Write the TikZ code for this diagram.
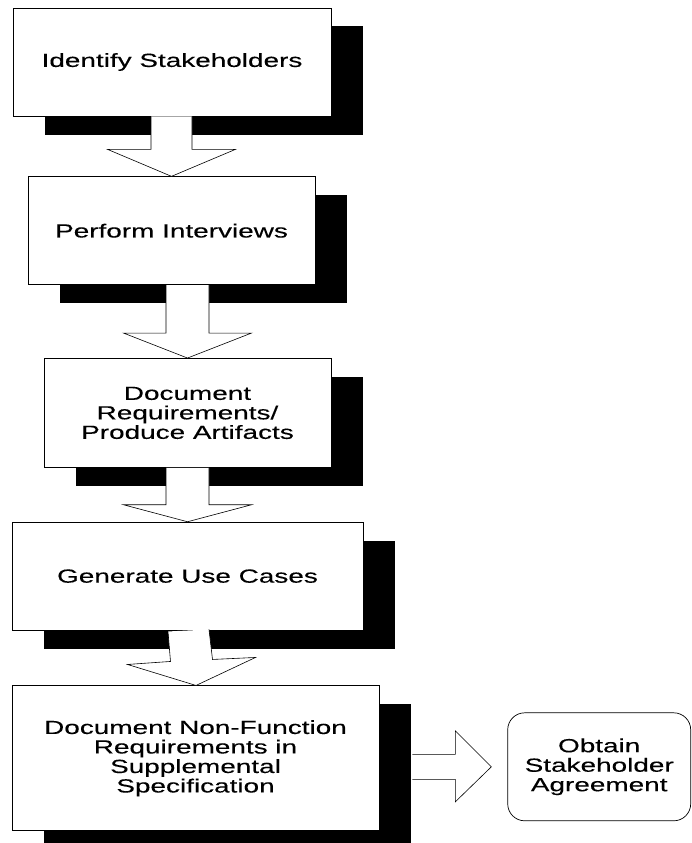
\documentclass[tikz,border=0pt]{standalone}
\usepackage{fontspec}
\setmainfont{Liberation Sans}[FakeStretch=1.47, FakeBold=0.2]
\usetikzlibrary{positioning, calc, shadows}

\begin{document}
\begin{tikzpicture}[node distance=60pt, every node/.style={font=\fontsize{19pt}{19.5pt}\selectfont}, align=center,
    stepbox/.style={rectangle, draw, line width=0.7pt, fill=white, inner sep=2pt,
      drop shadow={shadow xshift=31.5pt, shadow yshift=-18.5pt, opacity=1, fill=black}},
    endbox/.style={rectangle, draw, line width=0.7pt, rounded corners=17pt, inner sep=2pt},
    blockarrow/.style={draw, line width=0.6pt, fill=white, line join=miter}]
    \useasboundingbox (0,0) rectangle (691pt,-843pt);

    % Process steps
    \node (ident) [stepbox, minimum width=318pt, minimum height=108pt] at (172pt,-62pt) {Identify Stakeholders};
    \node (interv) [stepbox, minimum width=287pt, minimum height=108pt, below=60pt of ident, xshift=-0.5pt] {Perform Interviews};
    \node (docreq) [stepbox, minimum width=287pt, minimum height=109pt, below=73pt of interv, xshift=16pt] {Document\\Requirements/\\Produce Artifacts};
    \node (usecase) [stepbox, minimum width=351pt, minimum height=108pt, below=54pt of docreq] {Generate Use Cases};
    \node (nonfunc) [stepbox, minimum width=367pt, minimum height=145pt, below=55pt of usecase, xshift=8pt] {Document Non-Function\\Requirements in\\Supplemental\\Specification};

    % Final step
    \node (agree) [endbox, minimum width=183pt, minimum height=108pt, right=128pt of nonfunc, yshift=-8.5pt] {Obtain\\Stakeholder\\Agreement};

    % Block arrows
    \draw[blockarrow] ($(ident.south -| interv.north)+(-20.5pt,0)$) -- ($(interv.north)+(-20.5pt,27pt)$) -- ($(interv.north)+(-64pt,27pt)$) -- (interv.north) -- ($(interv.north)+(64pt,27pt)$) -- ($(interv.north)+(20.5pt,27pt)$) -- ($(ident.south -| interv.north)+(20.5pt,0)$);
    \draw[blockarrow] ($(interv.south -| docreq.north)+(-21.5pt,0)$) -- ($(docreq.north)+(-21.5pt,25pt)$) -- ($(docreq.north)+(-64pt,25pt)$) -- (docreq.north) -- ($(docreq.north)+(64pt,25pt)$) -- ($(docreq.north)+(21.5pt,25pt)$) -- ($(interv.south -| docreq.north)+(21.5pt,0)$);
    \draw[blockarrow] ($(docreq.south -| usecase.north)+(-21.5pt,0)$) -- ($(usecase.north)+(-21.5pt,17pt)$) -- ($(usecase.north)+(-64pt,17pt)$) -- (usecase.north) -- ($(usecase.north)+(64pt,17pt)$) -- ($(usecase.north)+(21.5pt,17pt)$) -- ($(docreq.south -| usecase.north)+(21.5pt,0)$);
    \draw[blockarrow] ($(usecase.south)+(-19.5pt,-1pt)$) -- ($(nonfunc.north)+(-25pt,24pt)$) -- ($(nonfunc.north)+(-68pt,21pt)$) -- ($(nonfunc.north)+(0.5pt,0)$) -- ($(nonfunc.north)+(60pt,28pt)$) -- ($(nonfunc.north)+(17pt,26pt)$) -- ($(usecase.south)+(21.5pt,1pt)$);
    \draw[blockarrow] ($(nonfunc.east |- agree.west)+(33pt,12.5pt)$) -- ($(agree.west)+(-52pt,12.5pt)$) -- ($(agree.west)+(-52pt,36pt)$) -- ($(agree.west)+(-16pt,0)$) -- ($(agree.west)+(-52pt,-35pt)$) -- ($(agree.west)+(-52pt,-12.5pt)$) -- ($(nonfunc.east |- agree.west)+(33pt,-12.5pt)$);
\end{tikzpicture}
\end{document}
